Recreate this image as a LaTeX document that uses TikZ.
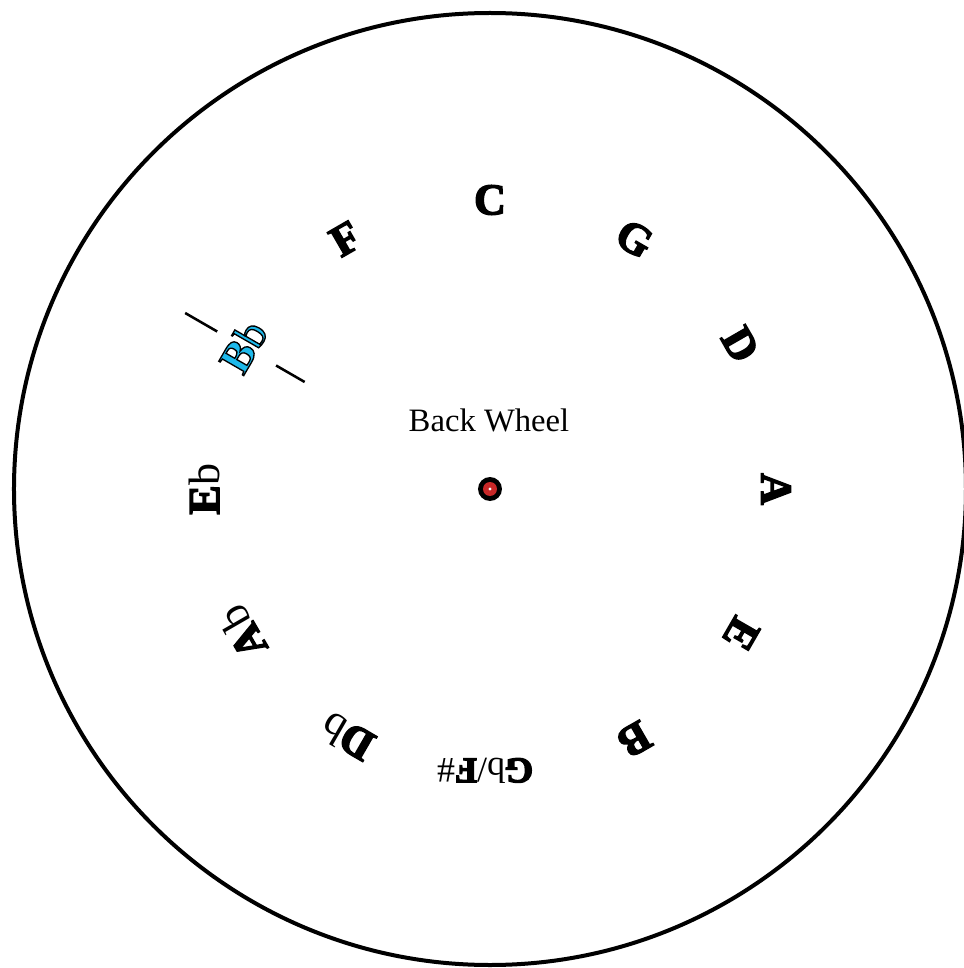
\documentclass[tikz,border=0pt]{standalone}
\usepackage{fontspec}
\setmainfont{Liberation Serif}
\definecolor{bbcyan}{RGB}{30,185,235}
\definecolor{hubred}{RGB}{200,40,40}
\newcommand{\outlinetext}[1]{\special{pdf:literal direct 2 Tr 1 w 0 0 0 RG}#1\special{pdf:literal direct 0 Tr}}
\newcommand{\heavy}[1]{\special{pdf:literal direct 2 Tr 1.1 w 0 0 0 RG}\textbf{#1}\special{pdf:literal direct 0 Tr}}
\begin{document}
\begin{tikzpicture}[x=0.75pt,y=0.75pt,
  note/.style={font=\fontsize{33}{38}\selectfont, inner sep=0pt},
  smallnote/.style={font=\fontsize{27}{32}\selectfont, inner sep=0pt},
  tick/.style={line width=1.9pt}]
\useasboundingbox (-490,-479) rectangle (474,489);
\clip (-490,-479) rectangle (474,489);
\draw[line width=3pt] (0,0) circle (476);
% hub
\fill[black] (0,0) circle (12);
\fill[hubred] (0,0) circle (7);
\fill[white] (0,0) circle (1.6);
\node[inner sep=0pt] (hub) at (0,0) {};
\node[font=\fontsize{24.5}{28}\selectfont] (label) at (-1,69) {Back Wheel};
% notes
\node[note, rotate=0]    (c)  at (90:289)  {\heavy{C}};
\node[note, rotate=-30]  (g)  at (60:289)  {\heavy{G}};
\node[note, rotate=-60]  (d)  at (30:289)  {\heavy{D}};
\node[note, rotate=-90]  (a)  at (0:286)   {\heavy{A}};
\node[note, rotate=-120] (e)  at (-30:290) {\heavy{E}};
\node[note, rotate=-150] (b)  at (-60:289) {\heavy{B}};
\node[smallnote, rotate=180]  (gb) at (-91:282) {\heavy{G}b/\heavy{F}\#};
\node[note, rotate=150]  (db) at (-120:286) {\heavy{D}b};
\node[note, rotate=120]  (ab) at (-150:286) {\heavy{A}b};
\node[note, rotate=90]   (eb) at (180:286) {\heavy{E}b};
\node[note, rotate=60, text=bbcyan] (bb) at (150:285) {\outlinetext{\textbf{B}b}};
\node[note, rotate=30]   (f)  at (120:289) {\heavy{F}};
% markers around Bb
\coordinate (t1) at (150:214);
\coordinate (t2) at (150:247);
\coordinate (t3) at (150:315);
\coordinate (t4) at (150:352);
\draw[tick] (t1) -- (t2);
\draw[tick] (t3) -- (t4);
\end{tikzpicture}
\end{document}
